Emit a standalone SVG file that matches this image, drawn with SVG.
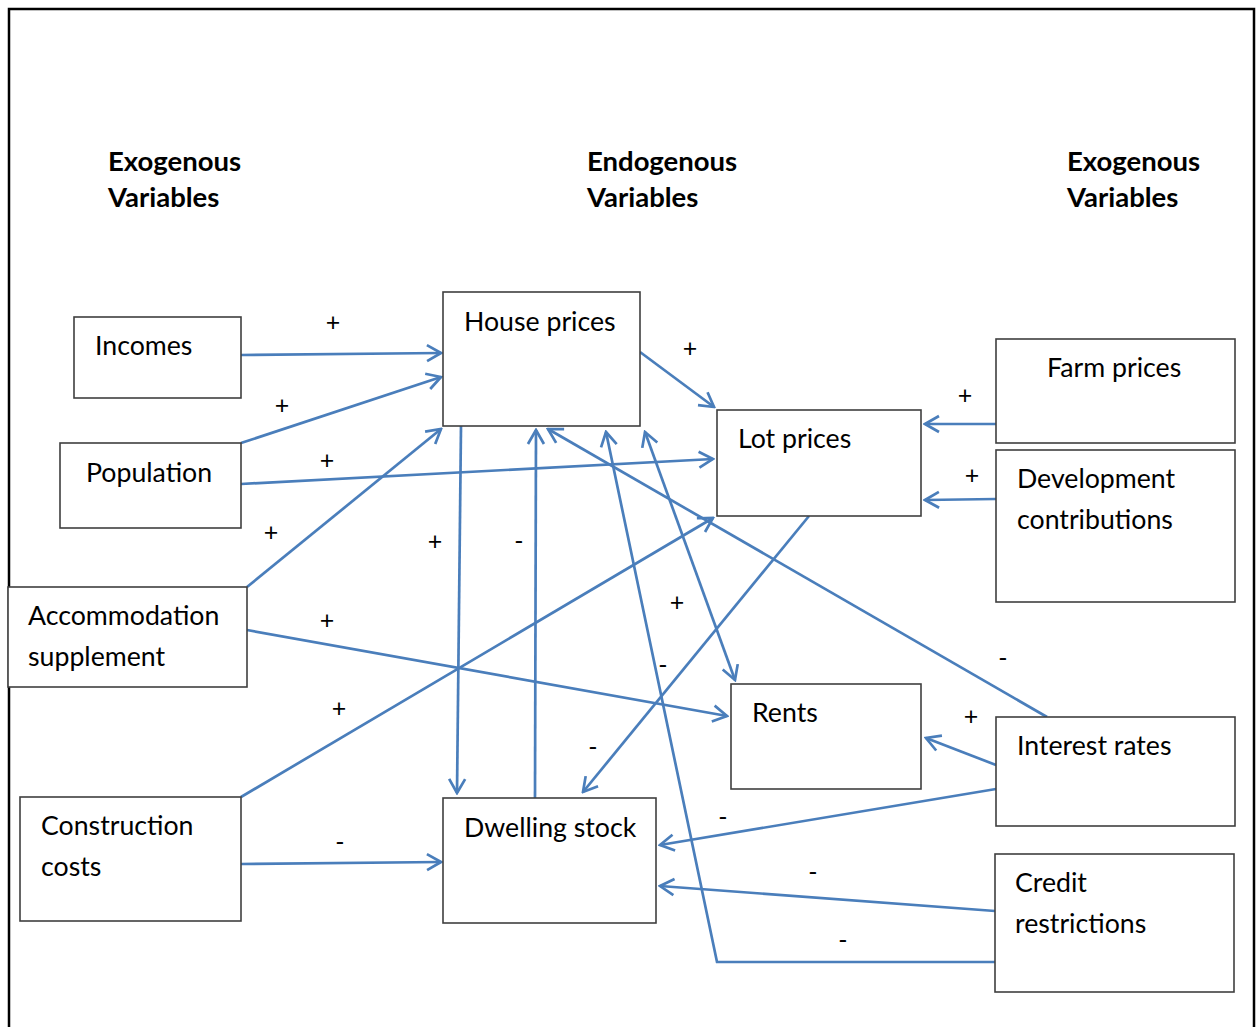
<svg xmlns="http://www.w3.org/2000/svg" width="1257" height="1027" viewBox="0 0 1257 1027">
<style>
.box{fill:#fff;stroke:#3f3f3f;stroke-width:1.6}
.t{font-family:Lato,"Open Sans","Liberation Sans",sans-serif;font-size:26.7px;fill:#000}
.h{font-family:Lato,"Open Sans","Liberation Sans",sans-serif;font-size:27.5px;font-weight:bold;fill:#000}
.s{font-family:Lato,"Open Sans","Liberation Sans",sans-serif;font-size:25px;fill:#000;text-anchor:middle}
.c{fill:none;stroke:#4a7ebb;stroke-width:2.7}
.a{marker-end:url(#ah)}
</style>
<defs>
<marker id="ah" viewBox="0 0 18 20" refX="16" refY="10" markerWidth="18" markerHeight="20" markerUnits="userSpaceOnUse" orient="auto-start-reverse">
<path d="M2,2 L16,10 L2,18" fill="none" stroke="#4a7ebb" stroke-width="2.7"/>
</marker>
</defs>
<rect x="0" y="0" width="1257" height="1027" fill="#fff"/>
<path d="M9,1027 V9 H1254 V1027" fill="none" stroke="#000" stroke-width="2.5"/>

<g id="headers">
<text class="h" x="108" y="171">Exogenous</text>
<text class="h" x="108" y="207">Variables</text>
<text class="h" x="587" y="171">Endogenous</text>
<text class="h" x="587" y="207">Variables</text>
<text class="h" x="1067" y="171">Exogenous</text>
<text class="h" x="1067" y="207">Variables</text>
</g>

<g id="connectors">
<line class="c a" x1="241" y1="355" x2="441" y2="353"/>
<line class="c a" x1="241" y1="443" x2="441" y2="377"/>
<line class="c a" x1="241" y1="484" x2="713" y2="459"/>
<line class="c a" x1="247" y1="587" x2="441" y2="429"/>
<line class="c a" x1="247" y1="630" x2="727" y2="716"/>
<line class="c a" x1="241" y1="797" x2="713" y2="518"/>
<line class="c a" x1="241" y1="864" x2="441" y2="862"/>
<line class="c a" x1="640" y1="352" x2="714" y2="407"/>
<line class="c a" x1="461" y1="426" x2="457" y2="793"/>
<line class="c a" x1="535" y1="798" x2="536" y2="430"/>
<line class="c a" x1="1047" y1="717" x2="548" y2="429"/>
<polyline class="c a" points="995,962 717,962 606,432"/>
<line class="c a" x1="645" y1="432" x2="735" y2="680" marker-start="url(#ah)"/>
<line class="c a" x1="809" y1="516" x2="583" y2="792"/>
<line class="c a" x1="996" y1="424" x2="925" y2="424"/>
<line class="c a" x1="996" y1="499" x2="925" y2="500"/>
<line class="c a" x1="996" y1="765" x2="926" y2="738"/>
<line class="c a" x1="996" y1="789" x2="660" y2="845"/>
<line class="c a" x1="995" y1="911" x2="660" y2="886"/>
</g>

<g id="signs">
<text class="s" x="333" y="331">+</text>
<text class="s" x="282" y="414">+</text>
<text class="s" x="327" y="469">+</text>
<text class="s" x="271" y="541">+</text>
<text class="s" x="327" y="629">+</text>
<text class="s" x="339" y="717">+</text>
<text class="s" x="340" y="851">-</text>
<text class="s" x="690" y="357">+</text>
<text class="s" x="435" y="550">+</text>
<text class="s" x="519" y="550">-</text>
<text class="s" x="677" y="611">+</text>
<text class="s" x="663" y="674">-</text>
<text class="s" x="593" y="756">-</text>
<text class="s" x="965" y="404">+</text>
<text class="s" x="972" y="484">+</text>
<text class="s" x="1003" y="667">-</text>
<text class="s" x="971" y="725">+</text>
<text class="s" x="723" y="826">-</text>
<text class="s" x="813" y="881">-</text>
<text class="s" x="843" y="949">-</text>
</g>

<g id="incomes"><rect class="box" x="74" y="317" width="167" height="81"/><text class="t" x="95" y="355">Incomes</text></g>
<g id="population"><rect class="box" x="60" y="443" width="181" height="85"/><text class="t" x="86" y="482">Population</text></g>
<g id="accommodation"><rect class="box" x="8" y="587" width="239" height="100"/><text class="t" x="28" y="625">Accommodation</text><text class="t" x="28" y="666">supplement</text></g>
<g id="construction"><rect class="box" x="20" y="797" width="221" height="124"/><text class="t" x="41" y="835">Construction</text><text class="t" x="41" y="876">costs</text></g>
<g id="house"><rect class="box" x="443" y="292" width="197" height="134"/><text class="t" x="464" y="331">House prices</text></g>
<g id="lot"><rect class="box" x="717" y="410" width="204" height="106"/><text class="t" x="738" y="448">Lot prices</text></g>
<g id="rents"><rect class="box" x="731" y="684" width="190" height="105"/><text class="t" x="752" y="722">Rents</text></g>
<g id="dwelling"><rect class="box" x="443" y="798" width="213" height="125"/><text class="t" x="464" y="837">Dwelling stock</text></g>
<g id="farm"><rect class="box" x="996" y="339" width="239" height="104"/><text class="t" x="1047" y="377">Farm prices</text></g>
<g id="development"><rect class="box" x="996" y="450" width="239" height="152"/><text class="t" x="1017" y="488">Development</text><text class="t" x="1017" y="529">contributions</text></g>
<g id="interest"><rect class="box" x="996" y="717" width="239" height="109"/><text class="t" x="1017" y="755">Interest rates</text></g>
<g id="credit"><rect class="box" x="995" y="854" width="239" height="138"/><text class="t" x="1015" y="892">Credit</text><text class="t" x="1015" y="933">restrictions</text></g>
</svg>
